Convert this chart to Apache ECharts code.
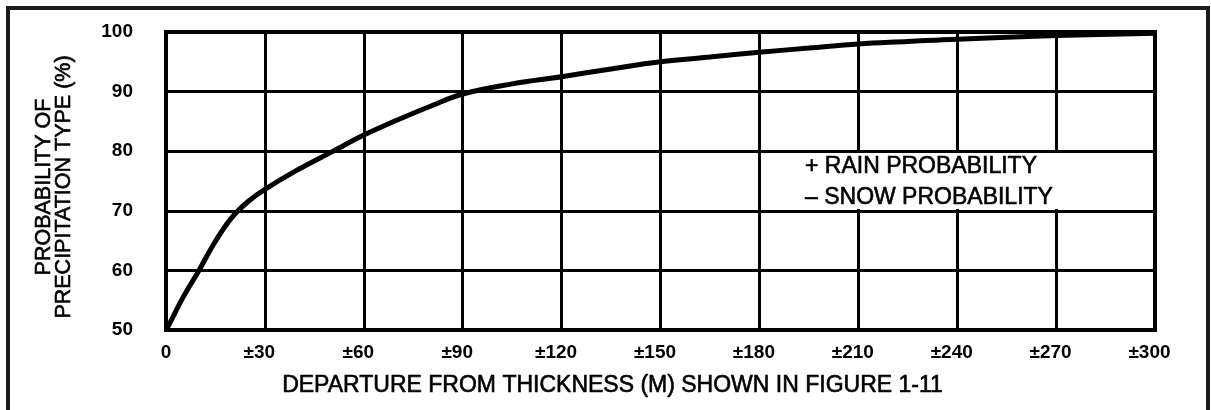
<!DOCTYPE html>
<html>
<head>
<meta charset="utf-8">
<script src="https://cdn.jsdelivr.net/npm/echarts@6/dist/echarts.min.js"></script>
<style>
  html, body { margin: 0; padding: 0; background: #fff; }
  #main { width: 1211px; height: 410px; }
</style>
</head>
<body>
<div id="main"></div>
<script>
// departure from thickness (m) and probability of precipitation type (%)
var departure = [0, 1, 5, 10, 15, 20, 25, 30, 40, 50, 60, 70, 80, 90, 105, 120, 135, 150, 165, 180, 195, 210, 225, 240, 270, 300];
var probability = [50, 51, 55.3, 60, 64.9, 68.9, 71.6, 73.6, 76.9, 79.8, 82.7, 85.2, 87.5, 89.6, 91.3, 92.5, 93.8, 95, 95.8, 96.6, 97.3, 98, 98.4, 98.8, 99.4, 99.8];
var xTicks = [0, 30, 60, 90, 120, 150, 180, 210, 240, 270, 300];
var yTicks = [50, 60, 70, 80, 90, 100];
var noteLines = ['+ RAIN PROBABILITY', '\u2013 SNOW PROBABILITY'];

var font = "'Liberation Sans', Arial, sans-serif";

var pts = [];
for (var i = 0; i < departure.length; i++) {
    pts.push([departure[i], probability[i]]);
}

var myChart = echarts.init(document.getElementById('main'));

var option = {
    backgroundColor: '#fff',
    animation: false,
    grid: {
        left: 166,
        right: 56,
        top: 32,
        bottom: 80,
        show: true,
        borderColor: '#000',
        borderWidth: 4
    },
    xAxis: {
        type: 'value',
        min: xTicks[0],
        max: xTicks[xTicks.length - 1],
        interval: 30,
        name: 'DEPARTURE FROM THICKNESS (M) SHOWN IN FIGURE 1-11',
        nameLocation: 'middle',
        nameGap: 44,
        nameTextStyle: {
            color: '#000',
            fontFamily: font,
            fontSize: 23,
            textBorderColor: '#000',
            textBorderWidth: 0.6,
            padding: [0, 96, 0, 0]
        },
        axisLine: { show: false },
        axisTick: { show: false },
        splitLine: { lineStyle: { color: '#000', width: 3 } },
        axisLabel: {
            margin: 13,
            color: '#000',
            fontFamily: font,
            fontSize: 19,
            fontWeight: 'bold',
            formatter: function (v) {
                return v === 0 ? '0' : '{pm|\u00b1}' + v + '{pad|}';
            },
            rich: {
                pm: { fontFamily: font, fontSize: 19, fontWeight: 'bold', color: '#000' },
                pad: { width: 11 }
            }
        }
    },
    yAxis: {
        type: 'value',
        min: yTicks[0],
        max: yTicks[yTicks.length - 1],
        interval: 10,
        name: 'PROBABILITY OF\nPRECIPITATION TYPE (%)',
        nameLocation: 'middle',
        nameRotate: 90,
        nameGap: 92,
        nameTextStyle: {
            color: '#000',
            fontFamily: font,
            fontSize: 21.5,
            lineHeight: 20,
            textBorderColor: '#000',
            textBorderWidth: 0.6,
            padding: [0, 12, 0, 0]
        },
        axisLine: { show: false },
        axisTick: { show: false },
        splitLine: { lineStyle: { color: '#000', width: 3 } },
        axisLabel: {
            margin: 33,
            color: '#000',
            fontFamily: font,
            fontSize: 19,
            fontWeight: 'bold'
        }
    },
    series: [{
        type: 'line',
        data: pts,
        smooth: 0.4,
        showSymbol: false,
        lineStyle: { color: '#000', width: 5 },
        z: 3,
        markArea: {
            silent: true,
            itemStyle: { color: '#fff' },
            data: [[{ coord: [181.2, 70.3] }, { coord: [299.3, 79.7] }]]
        }
    }],
    graphic: [
        {
            type: 'rect',
            shape: { x: 8, y: 8, width: 1200, height: 420 },
            style: { fill: 'none', stroke: '#1c1c1c', lineWidth: 4 },
            z: 100
        },
        {
            type: 'text',
            x: 805,
            y: 167,
            z: 100,
            style: {
                text: noteLines[0],
                fill: '#000',
                stroke: '#000',
                lineWidth: 0.6,
                font: '23px ' + font,
                verticalAlign: 'middle'
            }
        },
        {
            type: 'text',
            x: 805,
            y: 198,
            z: 100,
            style: {
                text: noteLines[1],
                fill: '#000',
                stroke: '#000',
                lineWidth: 0.6,
                font: '23px ' + font,
                verticalAlign: 'middle'
            }
        }
    ]
};

myChart.setOption(option);
</script>
</body>
</html>
